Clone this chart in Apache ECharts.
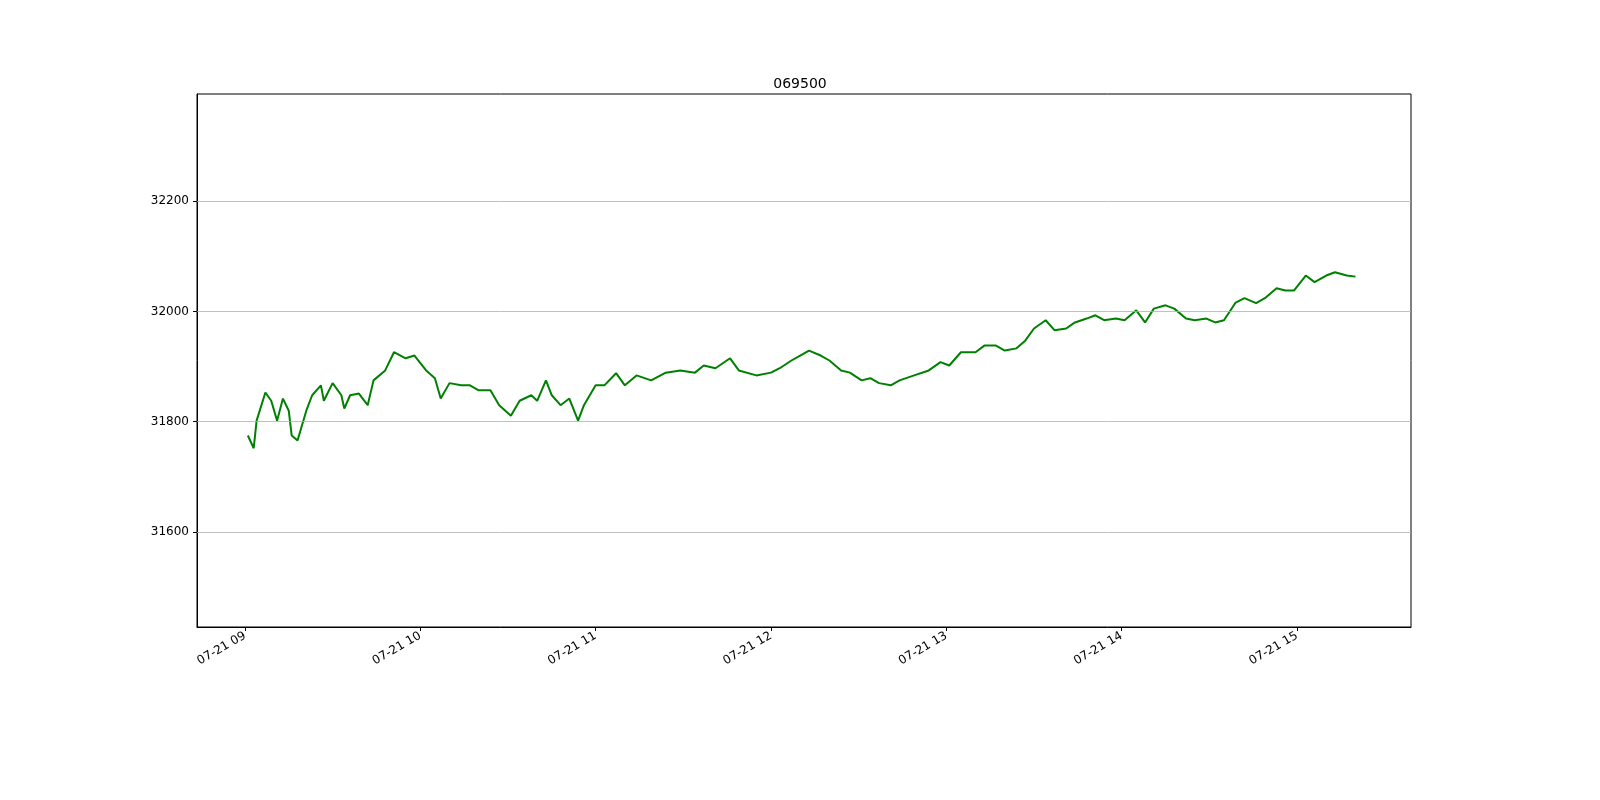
<!DOCTYPE html>
<html><head><meta charset="utf-8">
<script src="https://cdn.jsdelivr.net/npm/echarts@6/dist/echarts.min.js"></script>
<style>html,body{margin:0;padding:0;background:#fff;overflow:hidden}#c{width:1600px;height:800px}</style>
</head><body><div id="c"></div>
<script>
const title = '069500';
const minutes = [1,3,4,7,9,11,13,15,16,18,21,23,26,27,30,33,34,36,39,42,44,48,51,55,58,62,65,67,70,74,77,80,84,87,91,94,98,100,103,105,108,111,114,116,120,123,127,130,134,139,144,149,154,157,161,166,169,175,180,183,187,190,193,197,200,204,207,211,214,217,221,224,229,234,238,241,245,250,253,257,260,264,267,270,274,277,281,284,288,291,294,298,301,305,308,311,315,318,322,325,329,332,335,339,342,346,349,353,356,359,363,366,370,373,377,380];
const prices = [31775,31752,31802,31853,31838,31802,31842,31820,31775,31766,31820,31848,31866,31838,31870,31848,31824,31848,31851,31830,31875,31893,31926,31915,31920,31893,31879,31842,31870,31866,31866,31857,31857,31830,31811,31838,31848,31838,31875,31848,31830,31842,31802,31830,31866,31866,31888,31866,31884,31875,31889,31893,31889,31902,31897,31915,31893,31884,31889,31897,31911,31920,31929,31920,31911,31893,31889,31875,31879,31870,31866,31875,31884,31893,31908,31902,31926,31926,31938,31938,31929,31933,31947,31969,31984,31966,31969,31980,31987,31993,31984,31987,31984,32002,31980,32005,32011,32005,31987,31984,31987,31980,31984,32016,32024,32015,32024,32042,32038,32038,32065,32053,32065,32071,32065,32063];
const yTicks = [31600,31800,32000,32200];
const base = new Date(2023,6,21,9,0,0).getTime();
const data = minutes.map((m,i)=>[base+m*60000, prices[i]]);
const chart = echarts.init(document.getElementById('c'));
const pad = n => String(n).padStart(2,'0');
chart.setOption({
  animation:false,
  title:{text:title,left:'center',top:72,textStyle:{fontFamily:'DejaVu Sans',fontSize:14,fontWeight:'normal',color:'#000'}},
  grid:{left:197,right:189,top:94,bottom:173,show:true,borderColor:'#000',borderWidth:1,backgroundColor:'transparent'},
  xAxis:{type:'time',min:base-16.4*60000,max:base+399*60000,minInterval:3600000,maxInterval:3600000,
    axisLine:{lineStyle:{color:'#000'}},axisTick:{lineStyle:{color:'#000'},length:4},splitLine:{show:false},
    axisLabel:{rotate:30,color:'#000',fontFamily:'DejaVu Sans',fontSize:12,margin:8,
      formatter:v=>{const d=new Date(v);return pad(d.getMonth()+1)+'-'+pad(d.getDate())+' '+pad(d.getHours());}}},
  yAxis:{type:'value',min:31428,max:32394,
    axisLine:{show:true,lineStyle:{color:'#000'}},axisTick:{show:true,customValues:yTicks,lineStyle:{color:'#000'},length:4},
    splitLine:{show:false},
    axisLabel:{customValues:yTicks,color:'#000',fontFamily:'DejaVu Sans',fontSize:12,formatter:v=>String(v)}},
  series:[{type:'line',data:data,showSymbol:false,lineStyle:{color:'#008000',width:2},
    markLine:{silent:true,symbol:'none',label:{show:false},lineStyle:{color:'#b0b0b0',width:0.8,type:'solid'},
      data:yTicks.map(v=>({yAxis:v}))}}]
});
</script></body></html>
